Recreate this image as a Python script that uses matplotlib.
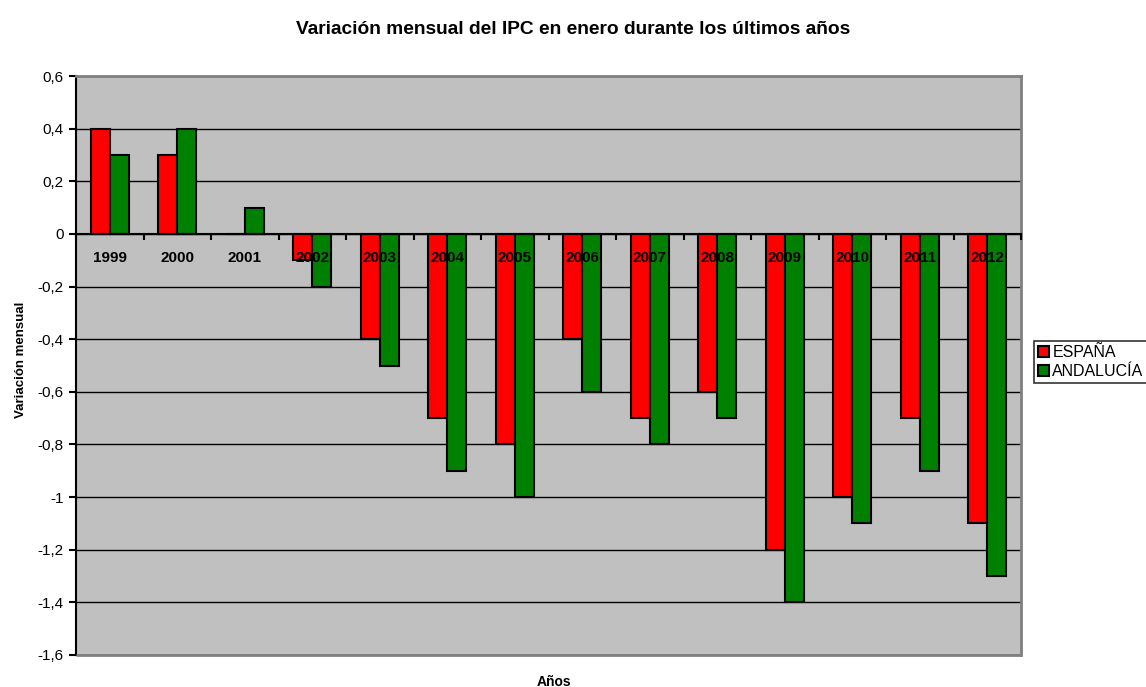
import matplotlib.pyplot as plt
import numpy as np
from matplotlib.patches import Rectangle
from matplotlib.ticker import FuncFormatter

plt.rcParams['font.family'] = ['Liberation Sans', 'DejaVu Sans']

years = ['1999', '2000', '2001', '2002', '2003', '2004', '2005',
         '2006', '2007', '2008', '2009', '2010', '2011', '2012']
espana = [0.4, 0.3, 0.0, -0.1, -0.4, -0.7, -0.8, -0.4, -0.7, -0.6, -1.2, -1.0, -0.7, -1.1]
andalucia = [0.3, 0.4, 0.1, -0.2, -0.5, -0.9, -1.0, -0.6, -0.8, -0.7, -1.4, -1.1, -0.9, -1.3]
yticks = [0.6, 0.4, 0.2, 0, -0.2, -0.4, -0.6, -0.8, -1, -1.2, -1.4, -1.6]

fig = plt.figure(figsize=(11.46, 6.87), dpi=100)
ax = fig.add_axes([76/1146, 32/687, (1021-76)/1146, (655-76)/687])
ax.set_facecolor('#C0C0C0')

x = np.arange(len(years))
w = 0.28

#grid behind the bars
for v in yticks:
    ax.axhline(v, color='k', lw=1.0, zorder=0.5)

ax.bar(x - w/2, espana, w, color='#FF0000', edgecolor='k', lw=1.5, zorder=2, label='ESPAÑA')
ax.bar(x + w/2, andalucia, w, color='#008000', edgecolor='k', lw=1.5, zorder=2, label='ANDALUCÍA')

ax.set_xlim(-0.5, len(years) - 0.5)
ax.set_ylim(-1.6, 0.6)

ax.set_yticks(yticks)
ax.yaxis.set_major_formatter(FuncFormatter(lambda v, p: ('%g' % round(v, 1)).replace('.', ',')))
ax.tick_params(axis='y', direction='out', length=5, width=1.5, labelsize=11, pad=4)

#x axis sits on zero, ticks between categories, labels at centres
ax.spines['bottom'].set_position(('data', 0))
ax.spines['bottom'].set_linewidth(1.5)
ax.set_xticks(np.arange(len(years) + 1) - 0.5)
ax.set_xticklabels([])
ax.set_xticks(x, minor=True)
ax.set_xticklabels(years, minor=True, fontweight='bold', fontsize=11)
ax.tick_params(axis='x', which='major', direction='out', length=4, width=1.5)
ax.tick_params(axis='x', which='minor', length=0, pad=12)
ax.xaxis.set_zorder(3)

ax.spines['left'].set_linewidth(1.5)
for s in ['top', 'right']:
    ax.spines[s].set_color('#808080')
    ax.spines[s].set_linewidth(2)
ax.add_patch(Rectangle((0, 0), 1, 0, transform=ax.transAxes, fill=False,
                       edgecolor='#808080', lw=2, clip_on=False, zorder=3))

ax.set_ylabel('Variación mensual', fontweight='bold', fontsize=9.5)
ax.yaxis.set_label_coords(-49/945, 0.51)
fig.text(554/1146, 1 - 682/687, 'Años', fontweight='bold', fontsize=10, ha='center', va='center')
fig.text(573/1146, 1 - 30/687, 'Variación mensual del IPC en enero durante los últimos años',
         fontweight='bold', fontsize=13.8, ha='center', va='center')

leg = fig.legend(loc='upper left', bbox_to_anchor=(1034/1146, 1 - 341/687), fontsize=11.5,
                 frameon=True, fancybox=False, edgecolor='k', handlelength=0.7, handleheight=0.7,
                 handletextpad=0.2, borderpad=0.25, labelspacing=0.25, borderaxespad=0)
leg.get_frame().set_linewidth(1.2)

plt.savefig('out.png', dpi=100)
